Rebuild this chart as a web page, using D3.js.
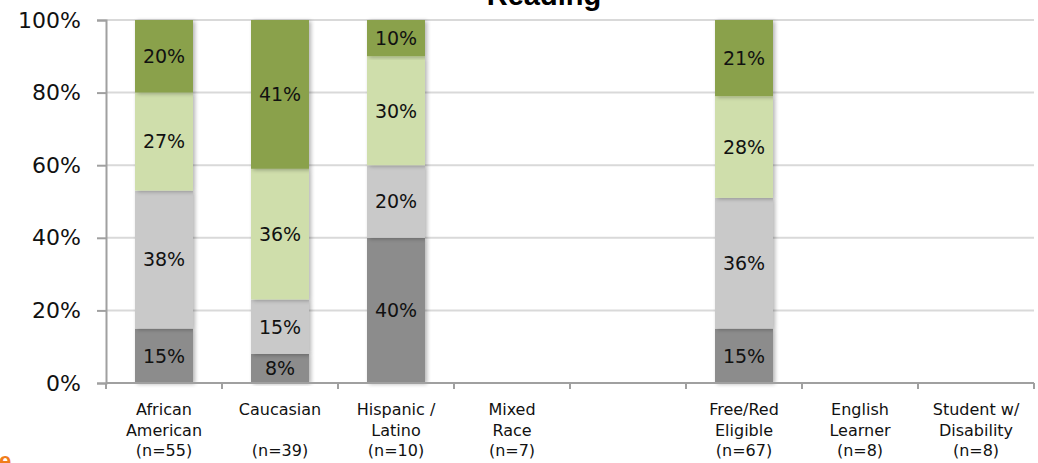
<!DOCTYPE html>
<html>
<head>
<meta charset="utf-8">
<script src="https://cdn.jsdelivr.net/npm/d3@7"></script>
<style>
  body { margin: 0; background: #fff; }
  svg { display: block; }
</style>
</head>
<body>
<div id="chart"></div>
<script>
// reading levels by student group (percent of students)

const categories = [
  ["African", "American", "(n=55)"],
  ["Caucasian", "", "(n=39)"],
  ["Hispanic /", "Latino", "(n=10)"],
  ["Mixed", "Race", "(n=7)"],
  ["", "", ""],
  ["Free/Red", "Eligible", "(n=67)"],
  ["English", "Learner", "(n=8)"],
  ["Student w/", "Disability", "(n=8)"]
];

// bottom to top: level 1 .. level 4 (null = no bar shown)
const level1 = [15, 8, 40, null, null, 15, null, null];
const level2 = [38, 15, 20, null, null, 36, null, null];
const level3 = [27, 36, 30, null, null, 28, null, null];
const level4 = [20, 41, 10, null, null, 21, null, null];

const yTicks = [0, 20, 40, 60, 80, 100];

const seriesColors = ["#8c8c8c", "#c9c9c9", "#cfdeab", "#8aa14b"];

const width = 1038;
const height = 463;
const margin = { top: 20, right: 4, bottom: 80, left: 106 };
const font = "'DejaVu Sans', sans-serif";

const svg = d3.select("#chart")
  .append("svg")
  .attr("width", width)
  .attr("height", height);

const x = d3.scaleBand()
  .domain(d3.range(categories.length))
  .range([margin.left, width - margin.right])
  .paddingInner(0.5)
  .paddingOuter(0.25);

const y = d3.scaleLinear()
  .domain([0, 100])
  .range([height - margin.bottom, margin.top]);

// gridlines
svg.append("g")
  .selectAll("line")
  .data(yTicks.filter(d => d > 0))
  .enter().append("line")
  .attr("x1", margin.left)
  .attr("x2", width - margin.right)
  .attr("y1", d => y(d))
  .attr("y2", d => y(d))
  .attr("stroke", "#d9d9d9")
  .attr("stroke-width", 2);

// stack the series
const rows = categories.map((c, i) => ({
  i: i,
  s0: level1[i], s1: level2[i], s2: level3[i], s3: level4[i]
}));
const keys = ["s0", "s1", "s2", "s3"];
const stack = d3.stack().keys(keys).value((d, k) => d[k] || 0);
const stacked = stack(rows);

const defs = svg.append("defs");
const shadow = defs.append("filter").attr("id", "shadow")
  .attr("x", "-10%").attr("y", "-10%").attr("width", "130%").attr("height", "120%");
shadow.append("feGaussianBlur").attr("in", "SourceAlpha").attr("stdDeviation", 2);
shadow.append("feOffset").attr("dx", 2).attr("dy", 1).attr("result", "b");
shadow.append("feComponentTransfer").append("feFuncA").attr("type", "linear").attr("slope", 0.3);
const merge = shadow.append("feMerge");
merge.append("feMergeNode");
merge.append("feMergeNode").attr("in", "SourceGraphic");

const bars = svg.append("g");
stacked.forEach((layer, li) => {
  const seg = bars.append("g").attr("fill", seriesColors[li]);
  seg.selectAll("rect")
    .data(layer.filter(d => d.data[keys[li]] != null))
    .enter().append("rect")
    .attr("x", d => x(d.data.i))
    .attr("width", x.bandwidth())
    .attr("y", d => y(d[1]))
    .attr("height", d => y(d[0]) - y(d[1]))
    .attr("filter", "url(#shadow)");
});

// data labels
const labels = svg.append("g")
  .attr("font-family", font)
  .attr("font-size", "19px")
  .attr("fill", "#111")
  .attr("text-anchor", "middle");
stacked.forEach((layer, li) => {
  labels.selectAll(null)
    .data(layer.filter(d => d.data[keys[li]] != null))
    .enter().append("text")
    .attr("x", d => x(d.data.i) + x.bandwidth() / 2)
    .attr("y", d => (y(d[0]) + y(d[1])) / 2)
    .attr("dy", "0.36em")
    .text(d => d.data[keys[li]] + "%");
});

// y axis
const yAxis = svg.append("g")
  .attr("transform", `translate(${margin.left},0)`)
  .call(d3.axisLeft(y).tickValues(yTicks).tickFormat(d => d + "%").tickSize(9).tickPadding(16));
yAxis.select(".domain").attr("stroke", "#a0a0a0").attr("stroke-width", 2);
yAxis.selectAll(".tick line").attr("stroke", "#a0a0a0").attr("stroke-width", 2);
yAxis.selectAll(".tick text")
  .attr("font-family", font)
  .attr("font-size", "22px")
  .attr("fill", "#111");

// x axis
const x0 = y(0);
const step = x.step();
const xAxis = svg.append("g");
xAxis.append("line")
  .attr("x1", margin.left)
  .attr("x2", width - margin.right)
  .attr("y1", x0)
  .attr("y2", x0)
  .attr("stroke", "#a0a0a0")
  .attr("stroke-width", 2);
xAxis.selectAll("line.tick")
  .data(d3.range(categories.length + 1))
  .enter().append("line")
  .attr("class", "tick")
  .attr("x1", d => margin.left + d * step)
  .attr("x2", d => margin.left + d * step)
  .attr("y1", x0)
  .attr("y2", x0 + 6)
  .attr("stroke", "#a0a0a0")
  .attr("stroke-width", 2);

const catText = xAxis.selectAll("text")
  .data(categories)
  .enter().append("text")
  .attr("x", (d, i) => x(i) + x.bandwidth() / 2)
  .attr("text-anchor", "middle")
  .attr("font-family", font)
  .attr("font-size", "16px")
  .attr("fill", "#111");
catText.each(function(d) {
  const t = d3.select(this);
  d.forEach((line, k) => {
    t.append("tspan")
      .attr("x", t.attr("x"))
      .attr("y", x0 + 32 + k * 20.5)
      .text(line);
  });
});

// title (cut off at the top)
svg.append("text")
  .attr("x", 544)
  .attr("y", 5)
  .attr("text-anchor", "middle")
  .attr("font-family", "'Liberation Sans', Arial, sans-serif")
  .attr("font-weight", "bold")
  .attr("font-size", "29px")
  .attr("fill", "#000")
  .text("Reading");

// stray orange letter at the bottom-left corner
svg.append("text")
  .attr("x", -1)
  .attr("y", 468)
  .attr("font-family", "'Liberation Sans', Arial, sans-serif")
  .attr("font-weight", "bold")
  .attr("font-size", "22px")
  .attr("fill", "#f07d1a")
  .text("e");
</script>
</body>
</html>
